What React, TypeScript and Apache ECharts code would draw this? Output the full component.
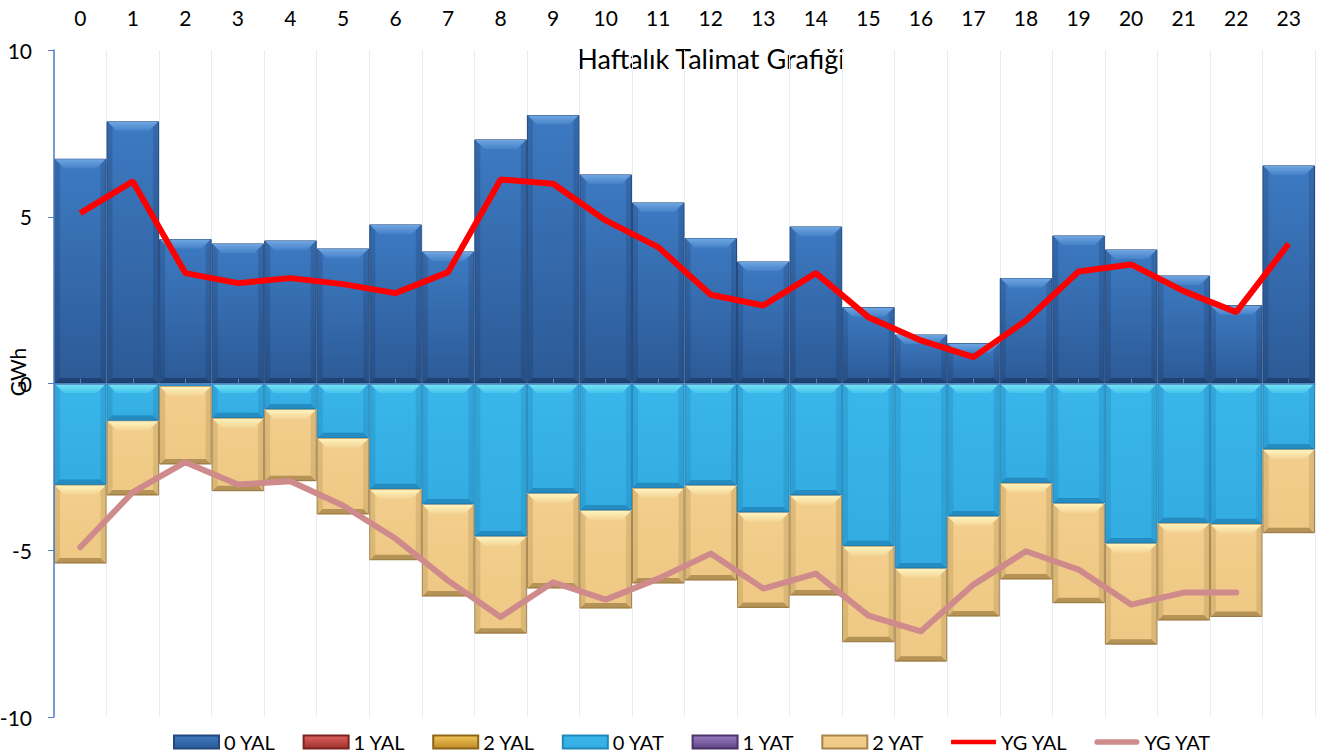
import React, { useEffect, useRef } from "react";
import * as echarts from "echarts";

const hours = ["0","1","2","3","4","5","6","7","8","9","10","11","12","13","14","15","16","17","18","19","20","21","22","23"];
const yTicks = [-10, -5, 0, 5, 10];

const yal0 = [6.74, 7.86, 4.33, 4.2, 4.29, 4.05, 4.77, 3.96, 7.32, 8.05, 6.27, 5.43, 4.36, 3.66, 4.71, 2.29, 1.47, 1.21, 3.16, 4.44, 4.02, 3.24, 2.35, 6.54];
const yal1: (number | null)[] = [];
const yal2: (number | null)[] = [];
const yat0 = [-3.04, -1.12, -0.08, -1.04, -0.78, -1.64, -3.17, -3.63, -4.59, -3.3, -3.81, -3.14, -3.06, -3.87, -3.36, -4.88, -5.55, -3.99, -2.99, -3.6, -4.8, -4.19, -4.22, -1.98];
const yat1: (number | null)[] = [];
const yat2 = [-2.36, -2.24, -2.35, -2.19, -2.15, -2.29, -2.13, -2.76, -2.91, -2.85, -2.94, -2.86, -2.85, -2.86, -3.0, -2.88, -2.79, -3.0, -2.89, -2.99, -3.03, -2.92, -2.78, -2.51];
const ygYal = [5.11, 6.06, 3.31, 3.01, 3.16, 2.98, 2.71, 3.34, 6.12, 5.99, 4.89, 4.09, 2.66, 2.34, 3.31, 1.99, 1.29, 0.79, 1.89, 3.36, 3.57, 2.77, 2.14, 4.19];
const ygYat = [-4.91, -3.26, -2.36, -3.03, -2.93, -3.66, -4.65, -5.91, -7.0, -5.96, -6.48, -5.85, -5.1, -6.15, -5.7, -6.96, -7.43, -6.03, -5.03, -5.58, -6.63, -6.27, -6.27, null];

const FONT = "Lato";

const grad = (top: string, bottom: string) =>
  new echarts.graphic.LinearGradient(0, 0, 0, 1, [
    { offset: 0, color: top },
    { offset: 1, color: bottom },
  ]);

const bevelTop = ["#6fa6e2", "#78e6f4", "#fff3bd"];
const bevelTopEnd = ["#4682c8", "#45c3ec", "#f3d495"];
const bevelBottom = ["rgba(15,35,70,0.45)", "rgba(10,80,130,0.35)", "rgba(110,80,30,0.45)"];
const bevelSide = ["rgba(15,35,70,0.18)", "rgba(10,80,130,0.15)", "rgba(110,80,30,0.15)"];

export default function App() {
  const ref = useRef<HTMLDivElement>(null);
  useEffect(() => {
    if (!ref.current) return;
    const chart = echarts.init(ref.current, null, { renderer: "svg" });

    const bevelData: number[][] = [];
    hours.forEach((_, i) => {
      bevelData.push([i, 0, yal0[i], 0]);
      bevelData.push([i, 0, yat0[i], 1]);
      bevelData.push([i, yat0[i], yat0[i] + yat2[i], 2]);
    });

    const barBase = {
      type: "bar",
      stack: "all",
      xAxisIndex: 0,
      barCategoryGap: 0,
      barGap: 0,
      z: 2,
    };

    chart.setOption({
      animation: false,
      textStyle: { fontFamily: FONT },
      grid: { left: 54, right: 5, top: 50, bottom: 39, containLabel: false, outerBoundsMode: "none" },
      graphic: [
        {
          type: "text",
          x: 711,
          y: 58,
          style: {
            text: "Haftalık Talimat Grafiği",
            fontFamily: FONT,
            fontSize: 27,
            fill: "#000",
            textAlign: "center",
            textVerticalAlign: "middle",
          },
        },
        {
          type: "text",
          x: 17,
          y: 372,
          rotation: Math.PI / 2,
          style: {
            text: "GWh",
            fontFamily: FONT,
            fontSize: 21,
            fill: "#000",
            textAlign: "center",
            textVerticalAlign: "middle",
          },
        },
      ],
      legend: {
        top: 727,
        left: 168,
        itemWidth: 45,
        itemHeight: 13,
        itemGap: 27,
        textStyle: { fontFamily: FONT, fontSize: 20, color: "#000" },
        data: [
          { name: "0 YAL", icon: "rect" },
          { name: "1 YAL", icon: "rect" },
          { name: "2 YAL", icon: "rect" },
          { name: "0 YAT", icon: "rect" },
          { name: "1 YAT", icon: "rect" },
          { name: "2 YAT", icon: "rect" },
          { name: "YG YAL", icon: "path://M0,0 L48,0 L48,5 L0,5 Z" },
          { name: "YG YAT", icon: "path://M3,0 L45,0 A3,3 0 0 1 45,6 L3,6 A3,3 0 0 1 3,0 Z" },
        ],
      },
      xAxis: [
        {
          type: "category",
          data: hours,
          position: "top",
          boundaryGap: true,
          axisLine: { show: false, onZero: false },
          axisTick: { show: false },
          axisLabel: { fontFamily: FONT, fontSize: 21, color: "#000", margin: 22 },
          splitLine: { show: true, lineStyle: { color: "#e6ecf5", width: 1 } },
          z: 1,
        },
        {
          type: "category",
          data: hours,
          position: "bottom",
          boundaryGap: true,
          axisLine: { show: true, onZero: true, lineStyle: { color: "#4f7fbe", width: 1.5 } },
          axisTick: { show: true, inside: true, alignWithLabel: true, length: 5, lineStyle: { color: "#4f7fbe" } },
          axisLabel: { show: false },
          splitLine: { show: false },
          z: 10,
        },
      ],
      yAxis: {
        type: "value",
        min: yTicks[0],
        max: yTicks[yTicks.length - 1],
        interval: 5,
        axisLine: { show: true, lineStyle: { color: "#4f7fbe", width: 1.5 } },
        axisTick: { show: true, length: 6, lineStyle: { color: "#4f7fbe" } },
        axisLabel: { fontFamily: FONT, fontSize: 21, color: "#000", margin: 22 },
        splitLine: { show: false },
        z: 10,
      },
      series: [
        {
          ...barBase,
          name: "0 YAL",
          data: yal0,
          itemStyle: { color: grad("#3d7ac2", "#2c5a96"), borderColor: "#23487c", borderWidth: 1 },
        },
        {
          ...barBase,
          name: "1 YAL",
          data: yal1,
          itemStyle: { color: grad("#e0625e", "#9c302d"), borderColor: "#7a2422", borderWidth: 1 },
        },
        {
          ...barBase,
          name: "2 YAL",
          data: yal2,
          itemStyle: { color: grad("#f2c55a", "#c08a26"), borderColor: "#8c6418", borderWidth: 1 },
        },
        {
          ...barBase,
          name: "0 YAT",
          data: yat0,
          itemStyle: { color: grad("#3ab6ea", "#33ace2"), borderColor: "#2088ba", borderWidth: 1 },
        },
        {
          ...barBase,
          name: "1 YAT",
          data: yat1,
          itemStyle: { color: grad("#9a7cc4", "#5f4585"), borderColor: "#4a3468", borderWidth: 1 },
        },
        {
          ...barBase,
          name: "2 YAT",
          data: yat2,
          itemStyle: { color: grad("#f3ce8c", "#eec884"), borderColor: "#a5834c", borderWidth: 1 },
        },
        {
          type: "custom",
          name: "bevel",
          xAxisIndex: 0,
          silent: true,
          z: 3,
          encode: { x: 0, y: [1, 2] },
          data: bevelData,
          renderItem: (_params: any, api: any) => {
            const i = api.value(0);
            const lo = api.value(1);
            const hi = api.value(2);
            const k = api.value(3);
            const w = api.size([1, 0])[0];
            const pLo = api.coord([i, lo]);
            const pHi = api.coord([i, hi]);
            const x0 = pLo[0] - w / 2 + 1;
            const x1 = pLo[0] + w / 2 - 1;
            const yTop = Math.min(pLo[1], pHi[1]) + 0.5;
            const yBot = Math.max(pLo[1], pHi[1]) - 0.5;
            const h = yBot - yTop;
            if (h < 2) return null;
            const b = Math.min(9, h / 2);
            const s = Math.min(5, h / 2);
            return {
              type: "group",
              children: [
                {
                  type: "polygon",
                  shape: { points: [[x0, yTop], [x0 + s, yTop + s], [x0 + s, yBot - s], [x0, yBot]] },
                  style: { fill: bevelSide[k] },
                },
                {
                  type: "polygon",
                  shape: { points: [[x1, yTop], [x1 - s, yTop + s], [x1 - s, yBot - s], [x1, yBot]] },
                  style: { fill: bevelSide[k] },
                },
                {
                  type: "polygon",
                  shape: { points: [[x0, yBot], [x1, yBot], [x1 - s, yBot - s], [x0 + s, yBot - s]] },
                  style: { fill: bevelBottom[k] },
                },
                {
                  type: "polygon",
                  shape: { points: [[x0, yTop], [x1, yTop], [x1 - b, yTop + b], [x0 + b, yTop + b]] },
                  style: {
                    fill: new echarts.graphic.LinearGradient(0, 0, 0, 1, [
                      { offset: 0, color: bevelTop[k] },
                      { offset: 1, color: bevelTopEnd[k] },
                    ]),
                  },
                },
              ],
            };
          },
        },
        {
          type: "line",
          name: "YG YAL",
          xAxisIndex: 0,
          data: ygYal,
          symbol: "none",
          z: 6,
          lineStyle: { color: "#ff0000", width: 6 },
          itemStyle: { color: "#ff0000" },
        },
        {
          type: "line",
          name: "YG YAT",
          xAxisIndex: 0,
          data: ygYat,
          symbol: "none",
          z: 6,
          lineStyle: { color: "#cf8b8b", width: 6, cap: "round", join: "round" },
          itemStyle: { color: "#cf8b8b" },
        },
      ],
    });
    return () => chart.dispose();
  }, []);
  return (
    <div
      ref={ref}
      style={{ position: "fixed", left: 0, top: 0, width: 1320, height: 756, background: "#fff" }}
    />
  );
}
